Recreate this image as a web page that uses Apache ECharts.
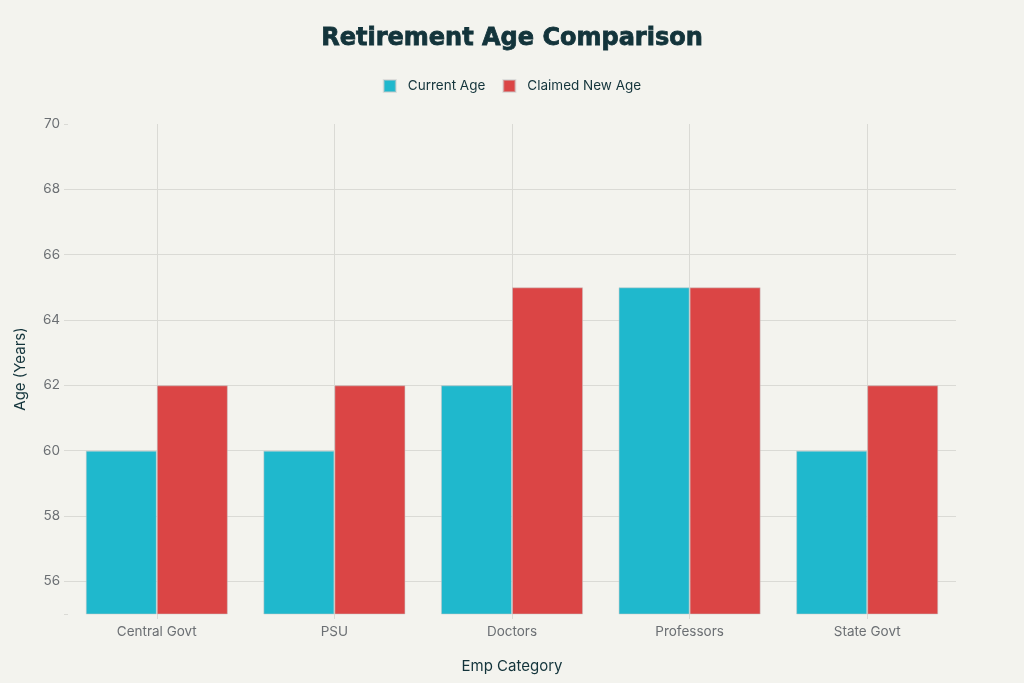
<!DOCTYPE html>
<html>
<head>
<meta charset="utf-8">
<script src="https://cdn.jsdelivr.net/npm/echarts@6/dist/echarts.min.js"></script>
<style>
html,body{margin:0;padding:0;background:#F3F3EE;}
#chart{width:1024px;height:683px;}
</style>
</head>
<body>
<div id="chart"></div>
<script>
const categories = ['Central Govt', 'PSU', 'Doctors', 'Professors', 'State Govt'];
const currentAge = [60, 60, 62, 65, 60];
const claimedNewAge = [62, 62, 65, 65, 62];
const seriesNames = ['Current Age', 'Claimed New Age'];
const yMin = 55, yMax = 70;

const chart = echarts.init(document.getElementById('chart'));
const font = 'Inter, "Open Sans", sans-serif';
chart.setOption({
  backgroundColor: '#F3F3EE',
  textStyle: { fontFamily: font },
  title: {
    text: 'Retirement Age Comparison',
    left: 'center',
    top: 22,
    textStyle: {
      fontFamily: '"DejaVu Sans", sans-serif', fontWeight: 'bold', fontSize: 24, color: '#13343B',
      textBorderColor: '#13343B', textBorderWidth: 0.8
    }
  },
  legend: {
    top: 74,
    left: 'center',
    itemWidth: 12,
    itemHeight: 12,
    itemGap: 17,
    icon: 'rect',
    textStyle: { fontFamily: font, fontSize: 13.5, color: '#13343B', padding: [0, 0, 0, 7] },
    data: seriesNames
  },
  grid: { left: 68, right: 68, top: 124, bottom: 69, containLabel: false },
  xAxis: {
    type: 'category',
    data: categories,
    name: 'Emp Category',
    nameLocation: 'middle',
    nameGap: 45,
    nameTextStyle: { fontFamily: font, fontSize: 15, color: '#13343B' },
    axisLine: { show: false },
    axisTick: { show: true, alignWithLabel: true, length: 5, lineStyle: { color: '#DADAD5' } },
    axisLabel: { fontFamily: font, fontSize: 13.5, color: '#6B6F73', margin: 11 },
    splitLine: { show: false }
  },
  yAxis: {
    type: 'value',
    min: yMin,
    max: yMax,
    splitNumber: 7,
    name: 'Age (Years)',
    nameLocation: 'middle',
    nameGap: 40,
    nameTextStyle: { fontFamily: font, fontSize: 15, color: '#13343B' },
    axisLine: { show: false },
    axisTick: { show: true, length: 4, lineStyle: { color: '#DADAD5' } },
    axisLabel: {
      fontFamily: font, fontSize: 13.5, color: '#6B6F73', margin: 8,
      formatter: v => (v === yMin ? '' : String(v))
    },
    splitLine: { show: true, showMinLine: false, showMaxLine: false, lineStyle: { color: '#DADAD5', width: 1 } }
  },
  series: [
    {
      name: 'grid-helper',
      type: 'line',
      data: [],
      silent: true,
      z: 1,
      markLine: {
        silent: true,
        symbol: 'none',
        z: 1,
        animation: false,
        label: { show: false },
        lineStyle: { color: '#DADAD5', type: 'solid', width: 1 },
        data: categories.map(c => ({ xAxis: c }))
      }
    },
    {
      name: seriesNames[0],
      type: 'bar',
      data: currentAge,
      barGap: 0,
      barCategoryGap: '20%',
      z: 2,
      itemStyle: { color: '#1FB8CD', borderColor: 'rgba(200,200,200,0.5)', borderWidth: 1 }
    },
    {
      name: seriesNames[1],
      type: 'bar',
      data: claimedNewAge,
      barGap: 0,
      barCategoryGap: '20%',
      z: 2,
      itemStyle: { color: '#DB4545', borderColor: 'rgba(200,200,200,0.5)', borderWidth: 1 }
    }
  ]
});
</script>
</body>
</html>
